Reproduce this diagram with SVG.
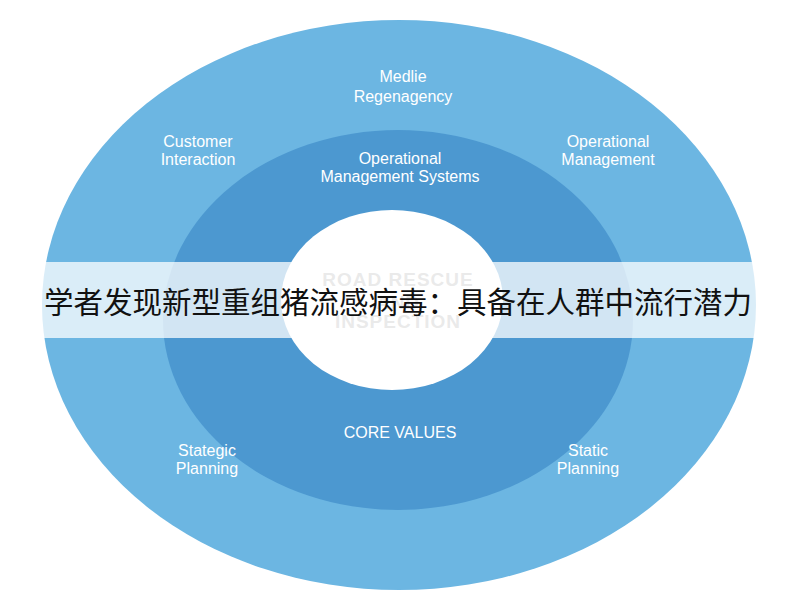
<svg xmlns="http://www.w3.org/2000/svg" width="800" height="600" viewBox="0 0 800 600">
<style>
.l{font-family:"Liberation Sans","DejaVu Sans",sans-serif;font-size:16px;fill:#fff;text-anchor:middle}
.c{font-family:"Liberation Sans",sans-serif;font-size:19px;fill:#aaa;font-weight:bold;text-anchor:middle;letter-spacing:1px}
</style>
<rect width="800" height="600" fill="#fff"/>
<g id="outer"><ellipse cx="399" cy="305" rx="357" ry="285" fill="#6cb6e2"/></g>
<g id="middle"><ellipse cx="398" cy="320" rx="235" ry="190" fill="#4c98d0"/></g>
<g id="inner"><ellipse cx="392" cy="300" rx="111" ry="90" fill="#fff"/>
<text class="c" x="398" y="286">ROAD RESCUE</text>
<text class="c" x="398" y="309">AND</text>
<text class="c" x="398" y="328">INSPECTION</text></g>
<g id="labels">
<text class="l" x="403" y="82">Medlie</text><text class="l" x="403" y="102">Regenagency</text>
<text class="l" x="198" y="147">Customer</text><text class="l" x="198" y="165">Interaction</text>
<text class="l" x="608" y="147">Operational</text><text class="l" x="608" y="165">Management</text>
<text class="l" x="400" y="164">Operational</text><text class="l" x="400" y="182">Management Systems</text>
<text class="l" x="400" y="438">CORE VALUES</text>
<text class="l" x="207" y="456">Stategic</text><text class="l" x="207" y="474">Planning</text>
<text class="l" x="588" y="456">Static</text><text class="l" x="588" y="474">Planning</text>
</g>
<g id="banner"><rect x="0" y="262" width="800" height="76" fill="#fff" opacity="0.75"/>
<text x="398" y="313" font-family="'Noto Sans CJK SC',sans-serif" font-size="29.5" fill="#111" text-anchor="middle">学者发现新型重组猪流感病毒：具备在人群中流行潜力</text></g>
</svg>
